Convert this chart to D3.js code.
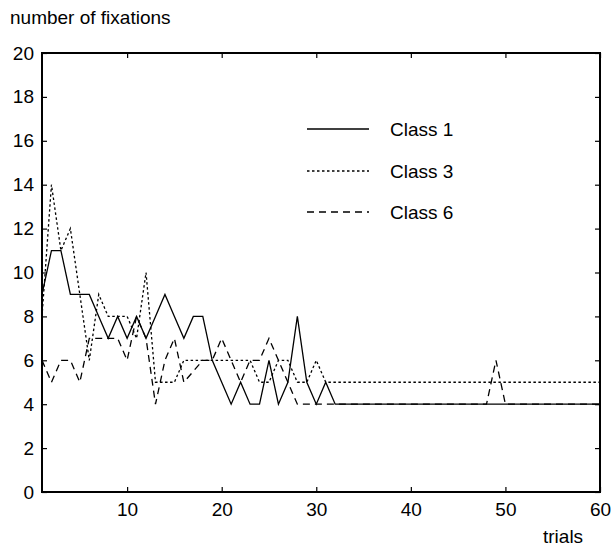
<!DOCTYPE html>
<html>
<head>
<meta charset="utf-8">
<script src="https://cdn.jsdelivr.net/npm/d3@7/dist/d3.min.js"></script>
<style>
  html, body { margin: 0; padding: 0; background: #fff; }
  svg text { font-family: "Liberation Sans", Arial, Helvetica, sans-serif; fill: #000; }
</style>
</head>
<body>
<svg id="chart" width="612" height="548"></svg>
<script>
const trials = [1,2,3,4,5,6,7,8,9,10,11,12,13,14,15,16,17,18,19,20,
  21,22,23,24,25,26,27,28,29,30,31,32,33,34,35,36,37,38,39,40,
  41,42,43,44,45,46,47,48,49,50,51,52,53,54,55,56,57,58,59,60];

const class1 = [9,11,11,9,9,9,8,7,8,7,8,7,8,9,8,7,8,8,6,5,
  4,5,4,4,6,4,5,8,5,4,5,4,4,4,4,4,4,4,4,4,
  4,4,4,4,4,4,4,4,4,4,4,4,4,4,4,4,4,4,4,4];

const class3 = [8,14,11,12,9,6,9,8,8,8,7,10,5,5,5,6,6,6,6,6,
  6,6,6,5,5,6,6,5,5,6,5,5,5,5,5,5,5,5,5,5,
  5,5,5,5,5,5,5,5,5,5,5,5,5,5,5,5,5,5,5,5];

const class6 = [6,5,6,6,5,7,7,7,7,6,8,7,4,6,7,5,5.5,6,6,7,
  6,5,6,6,7,6,5,4,4,4,4,4,4,4,4,4,4,4,4,4,
  4,4,4,4,4,4,4,4,6,4,4,4,4,4,4,4,4,4,4,4];

const seriesNames = ["Class 1", "Class 3", "Class 6"];
const xTicks = [10, 20, 30, 40, 50, 60];
const yTicks = [0, 2, 4, 6, 8, 10, 12, 14, 16, 18, 20];
const yLabel = "number of fixations";
const xLabel = "trials";

const dashes = [null, "2.5,2.5", "7,5"];
const allSeries = [class1, class3, class6];

const svg = d3.select("#chart");
const L = 42, R = 600, T = 53, B = 492;
const x = d3.scaleLinear().domain([1, 60]).range([L, R]);
const y = d3.scaleLinear().domain([0, 20]).range([B, T]);
const fs = 19;

const xAxis = d3.axisBottom(x).tickValues(xTicks).tickSize(-5).tickPadding(11);
const gx = svg.append("g").attr("transform", `translate(0,${B})`).call(xAxis);
const xAxisTop = d3.axisTop(x).tickValues(xTicks).tickSize(-5).tickFormat("");
const gxt = svg.append("g").attr("transform", `translate(0,${T})`).call(xAxisTop);
const yAxis = d3.axisLeft(y).tickValues(yTicks).tickSize(-5).tickPadding(8);
const gy = svg.append("g").attr("transform", `translate(${L},0)`).call(yAxis);
const yAxisR = d3.axisRight(y).tickValues(yTicks).tickSize(-5).tickFormat("");
const gyr = svg.append("g").attr("transform", `translate(${R},0)`).call(yAxisR);

[gx, gxt, gy, gyr].forEach(g => {
  g.select(".domain").remove();
  g.selectAll(".tick line").attr("stroke", "#000").attr("stroke-width", 1.2);
  g.selectAll("text").style("font-size", fs + "px").style("font-family", '"Liberation Sans", Arial, sans-serif');
});

svg.append("rect").attr("x", L).attr("y", T).attr("width", R - L).attr("height", B - T)
  .attr("fill", "none").attr("stroke", "#000").attr("stroke-width", 2);

const line = d3.line().x((d, i) => x(trials[i])).y(d => y(d));
allSeries.forEach((s, k) => {
  svg.append("path").datum(s).attr("d", line)
    .attr("fill", "none").attr("stroke", "#000").attr("stroke-width", 1.3)
    .attr("stroke-dasharray", dashes[k]);
});

const legY = [129, 171, 212];
seriesNames.forEach((n, k) => {
  svg.append("line").attr("x1", 307).attr("x2", 369).attr("y1", legY[k]).attr("y2", legY[k])
    .attr("stroke", "#000").attr("stroke-width", 1.3).attr("stroke-dasharray", dashes[k]);
  svg.append("text").attr("x", 390).attr("y", legY[k]).attr("dy", "0.35em")
    .style("font-size", fs + "px").text(n);
});

svg.append("text").attr("x", 10).attr("y", 24).style("font-size", fs + "px").text(yLabel);
svg.append("text").attr("x", 543).attr("y", 543).style("font-size", fs + "px").text(xLabel);
</script>
</body>
</html>
